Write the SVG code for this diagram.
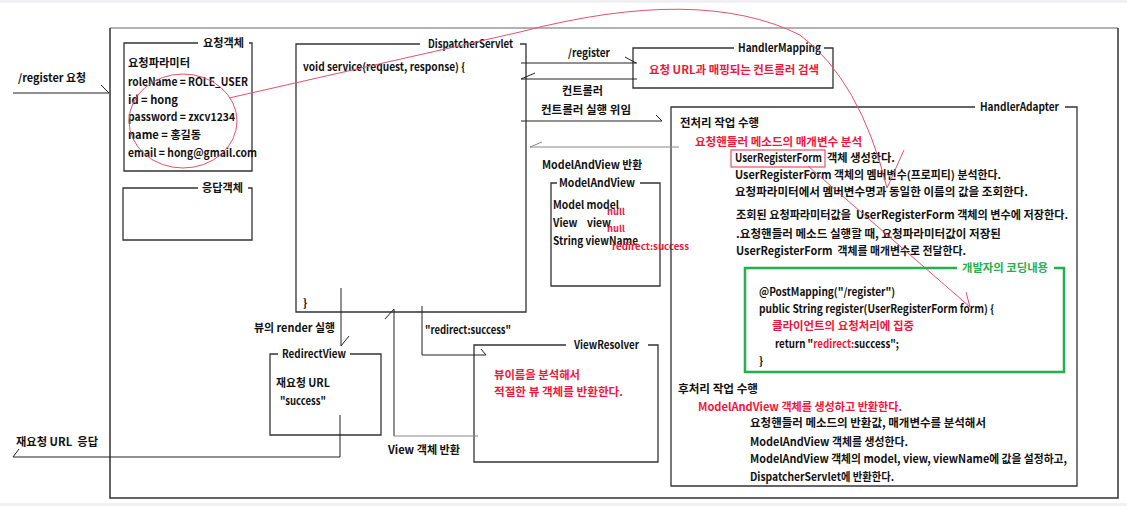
<svg xmlns="http://www.w3.org/2000/svg" width="1127" height="506" viewBox="0 0 1127 506">
<style>
text{font-family:"Noto Sans CJK KR","Noto Sans",sans-serif;font-size:11px;font-weight:600;fill:#111;white-space:pre}
.r{fill:#f2163c}
.g{fill:#22b14c}
.sm{font-size:9px;font-weight:700}
.box{fill:none;stroke:#333;stroke-width:1.3}
.gbox{fill:none;stroke:#22b14c;stroke-width:2.5}
.ln{fill:none;stroke:#222;stroke-width:1}
.gray{stroke:#888}
.red{fill:none;stroke:#e8506a;stroke-width:1}
</style>
<rect x="0" y="0" width="1127" height="506" fill="#fff"/>
<rect x="0" y="0" width="1127" height="3" fill="#f1f1f4"/>
<rect x="0" y="503" width="1127" height="3" fill="#f1f1f4"/>

<g id="frame">
<path d="M110,28 L1118,28" stroke="#999" stroke-width="1.5"/>
<path d="M110,28 L110,498 L1118,498 L1118,28" fill="none" stroke="#333" stroke-width="1.5"/>
</g>

<g id="request-object">
<path class="box" d="M198,43 L124,43 L124,171 L252,171 L252,43 L249,43"/>
<text x="203" y="47" textLength="41" lengthAdjust="spacingAndGlyphs">요청객체</text>
<text x="128" y="67" textLength="62" lengthAdjust="spacingAndGlyphs">요청파라미터</text>
<text x="128" y="86" textLength="120" lengthAdjust="spacingAndGlyphs">roleName = ROLE_USER</text>
<text x="128" y="104" textLength="50" lengthAdjust="spacingAndGlyphs">id = hong</text>
<text x="128" y="121" textLength="107" lengthAdjust="spacingAndGlyphs">password = zxcv1234</text>
<text x="128" y="139" textLength="73" lengthAdjust="spacingAndGlyphs">name = 홍길동</text>
<text x="128" y="157" textLength="129" lengthAdjust="spacingAndGlyphs">email = hong@gmail.com</text>
</g>

<g id="response-object">
<path class="box" d="M198,188 L123,188 L123,240 L252,240 L252,188 L248,188"/>
<text x="202" y="192" textLength="41" lengthAdjust="spacingAndGlyphs">응답객체</text>
</g>

<g id="dispatcher-servlet">
<path class="box" d="M420,44 L296,44 L296,312 L526,312 L526,44 L520,44"/>
<text x="428" y="48" textLength="85" lengthAdjust="spacingAndGlyphs">DispatcherServlet</text>
<text x="303" y="71" textLength="162" lengthAdjust="spacingAndGlyphs">void service(request, response) {</text>
<text x="303" y="307">}</text>
</g>

<g id="handler-mapping">
<path class="box" d="M734,48 L633,48 L633,88 L833,88 L833,48 L824,48"/>
<text x="738" y="52" textLength="83" lengthAdjust="spacingAndGlyphs">HandlerMapping</text>
<text class="r" x="649" y="74" textLength="170" lengthAdjust="spacingAndGlyphs">요청 URL과 매핑되는 컨트롤러 검색</text>
</g>

<g id="model-and-view">
<text x="542" y="169" textLength="100" lengthAdjust="spacingAndGlyphs">ModelAndView 반환</text>
<path class="box" d="M557,183 L551,183 L551,286 L660,286 L660,183 L640,183"/>
<text x="559" y="187" textLength="76" lengthAdjust="spacingAndGlyphs">ModelAndView</text>
<text x="553" y="209" textLength="66" lengthAdjust="spacingAndGlyphs">Model model</text>
<text class="r sm" x="607" y="215" textLength="18" lengthAdjust="spacingAndGlyphs">null</text>
<text x="553" y="227" textLength="58" lengthAdjust="spacingAndGlyphs">View    view</text>
<text class="r sm" x="607" y="232" textLength="18" lengthAdjust="spacingAndGlyphs">null</text>
<text x="553" y="245" textLength="85" lengthAdjust="spacingAndGlyphs">String viewName</text>
<text class="r sm" x="612" y="250" textLength="77" lengthAdjust="spacingAndGlyphs">redirect:success</text>
</g>

<g id="handler-adapter">
<path class="box" d="M975,107 L671,107 L671,486 L1077,486 L1077,107 L1065,107"/>
<text x="980" y="111" textLength="79" lengthAdjust="spacingAndGlyphs">HandlerAdapter</text>
<text x="680" y="127" textLength="79" lengthAdjust="spacingAndGlyphs">전처리 작업 수행</text>
<text class="r" x="695" y="146" textLength="167" lengthAdjust="spacingAndGlyphs">요청핸들러 메소드의 매개변수 분석</text>
<rect x="731" y="150" width="94" height="17" fill="none" stroke="#e8506a" stroke-width="1.2"/>
<text x="735" y="162" textLength="87" lengthAdjust="spacingAndGlyphs">UserRegisterForm</text>
<text x="827" y="162" textLength="68" lengthAdjust="spacingAndGlyphs">객체 생성한다.</text>
<text x="735" y="179" textLength="266" lengthAdjust="spacingAndGlyphs">UserRegisterForm 객체의 멤버변수(프로피티) 분석한다.</text>
<text x="735" y="196" textLength="293" lengthAdjust="spacingAndGlyphs">요청파라미터에서 멤버변수명과 동일한 이름의 값을 조회한다.</text>
<text x="736" y="219" textLength="332" lengthAdjust="spacingAndGlyphs">조회된 요청파라미터값을  UserRegisterForm 객체의 변수에 저장한다.</text>
<text x="736" y="238" textLength="265" lengthAdjust="spacingAndGlyphs">.요청핸들러 메소드 실행할 때, 요청파라미터값이 저장된</text>
<text x="736" y="255" textLength="230" lengthAdjust="spacingAndGlyphs">UserRegisterForm  객체를 매개변수로 전달한다.</text>
<text x="678" y="393" textLength="80" lengthAdjust="spacingAndGlyphs">후처리 작업 수행</text>
<text class="r" x="698" y="411" textLength="204" lengthAdjust="spacingAndGlyphs">ModelAndView 객체를 생성하고 반환한다.</text>
<text x="750" y="427" textLength="236" lengthAdjust="spacingAndGlyphs">요청핸들러 메소드의 반환값, 매개변수를 분석해서</text>
<text x="750" y="446" textLength="158" lengthAdjust="spacingAndGlyphs">ModelAndView 객체를 생성한다.</text>
<text x="750" y="463" textLength="317" lengthAdjust="spacingAndGlyphs">ModelAndView 객체의 model, view, viewName에 값을 설정하고,</text>
<text x="750" y="481" textLength="144" lengthAdjust="spacingAndGlyphs">DispatcherServlet에 반환한다.</text>
</g>

<g id="developer-code">
<path class="gbox" d="M957,268 L745,268 L745,372 L1064,372 L1064,268 L1054,268"/>
<text class="g" x="962" y="272" textLength="86" lengthAdjust="spacingAndGlyphs">개발자의 코딩내용</text>
<text x="759" y="296" textLength="136" lengthAdjust="spacingAndGlyphs">@PostMapping("/register")</text>
<text x="759" y="313" textLength="235" lengthAdjust="spacingAndGlyphs">public String register(UserRegisterForm form) {</text>
<text class="r" x="772" y="330" textLength="142" lengthAdjust="spacingAndGlyphs">클라이언트의 요청처리에 집중</text>
<text x="775" y="348" textLength="124" lengthAdjust="spacingAndGlyphs">return "<tspan class="r">redirect:</tspan>success";</text>
<text x="759" y="365">}</text>
</g>

<g id="redirect-view">
<path class="box" d="M278,354 L270,354 L270,435 L381,435 L381,354 L350,354"/>
<text x="282" y="358" textLength="64" lengthAdjust="spacingAndGlyphs">RedirectView</text>
<text x="276" y="387" textLength="54" lengthAdjust="spacingAndGlyphs">재요청 URL</text>
<text x="280" y="405" textLength="46" lengthAdjust="spacingAndGlyphs">"success"</text>
</g>

<g id="view-resolver">
<path class="box" d="M566,345 L474,345 L474,462 L658,462 L658,345 L648,345"/>
<text x="574" y="349" textLength="65" lengthAdjust="spacingAndGlyphs">ViewResolver</text>
<text class="r" x="494" y="379" textLength="86" lengthAdjust="spacingAndGlyphs">뷰이름을 분석해서</text>
<text class="r" x="494" y="396" textLength="129" lengthAdjust="spacingAndGlyphs">적절한 뷰 객체를 반환한다.</text>
</g>

<g id="connectors">
<path class="ln" d="M13,93 L109,93 M101,85 L109,93"/>
<text x="18" y="82" textLength="68" lengthAdjust="spacingAndGlyphs">/register 요청</text>
<path class="ln" d="M521,63 L637,63 M625,57 L636,63"/>
<text x="568" y="57" textLength="42" lengthAdjust="spacingAndGlyphs">/register</text>
<path class="ln" d="M637,79 L521,79 M535,73 L521,79"/>
<text x="562" y="95" textLength="41" lengthAdjust="spacingAndGlyphs">컨트롤러</text>
<path class="ln" d="M521,121 L662,121 M656,115 L662,121"/>
<text x="541" y="114" textLength="90" lengthAdjust="spacingAndGlyphs">컨트롤러 실행 위임</text>
<path class="ln gray" d="M679,147 L530,147 M542,142 L530,147"/>
<path class="ln" d="M341,288 L341,346 M349,336 L341,346"/>
<text x="254" y="332" textLength="81" lengthAdjust="spacingAndGlyphs">뷰의 render 실행</text>
<path class="ln" d="M422,306 L422,355 L486,355 M481,349 L486,355"/>
<text x="425" y="334" textLength="86" lengthAdjust="spacingAndGlyphs">"redirect:success"</text>
<path class="ln" d="M394,309 L394,436 M385,319 L394,309"/>
<path class="ln gray" d="M394,436 L478,436"/>
<text x="388" y="454" textLength="72" lengthAdjust="spacingAndGlyphs">View 객체 반환</text>
<path class="ln" d="M340,415 L340,457 L13,457 M19,449 L13,457"/>
<text x="16" y="446" textLength="82" lengthAdjust="spacingAndGlyphs">재요청 URL  응답</text>
<ellipse class="red" cx="183" cy="121" rx="54" ry="47"/>
<path class="red" d="M229,98 L520,32 Q700,-15 800,35 Q860,80 887,188 L904,150"/>
<path class="red" d="M808,166 L970,307 M966,292 L970,307"/>
</g>
</svg>
